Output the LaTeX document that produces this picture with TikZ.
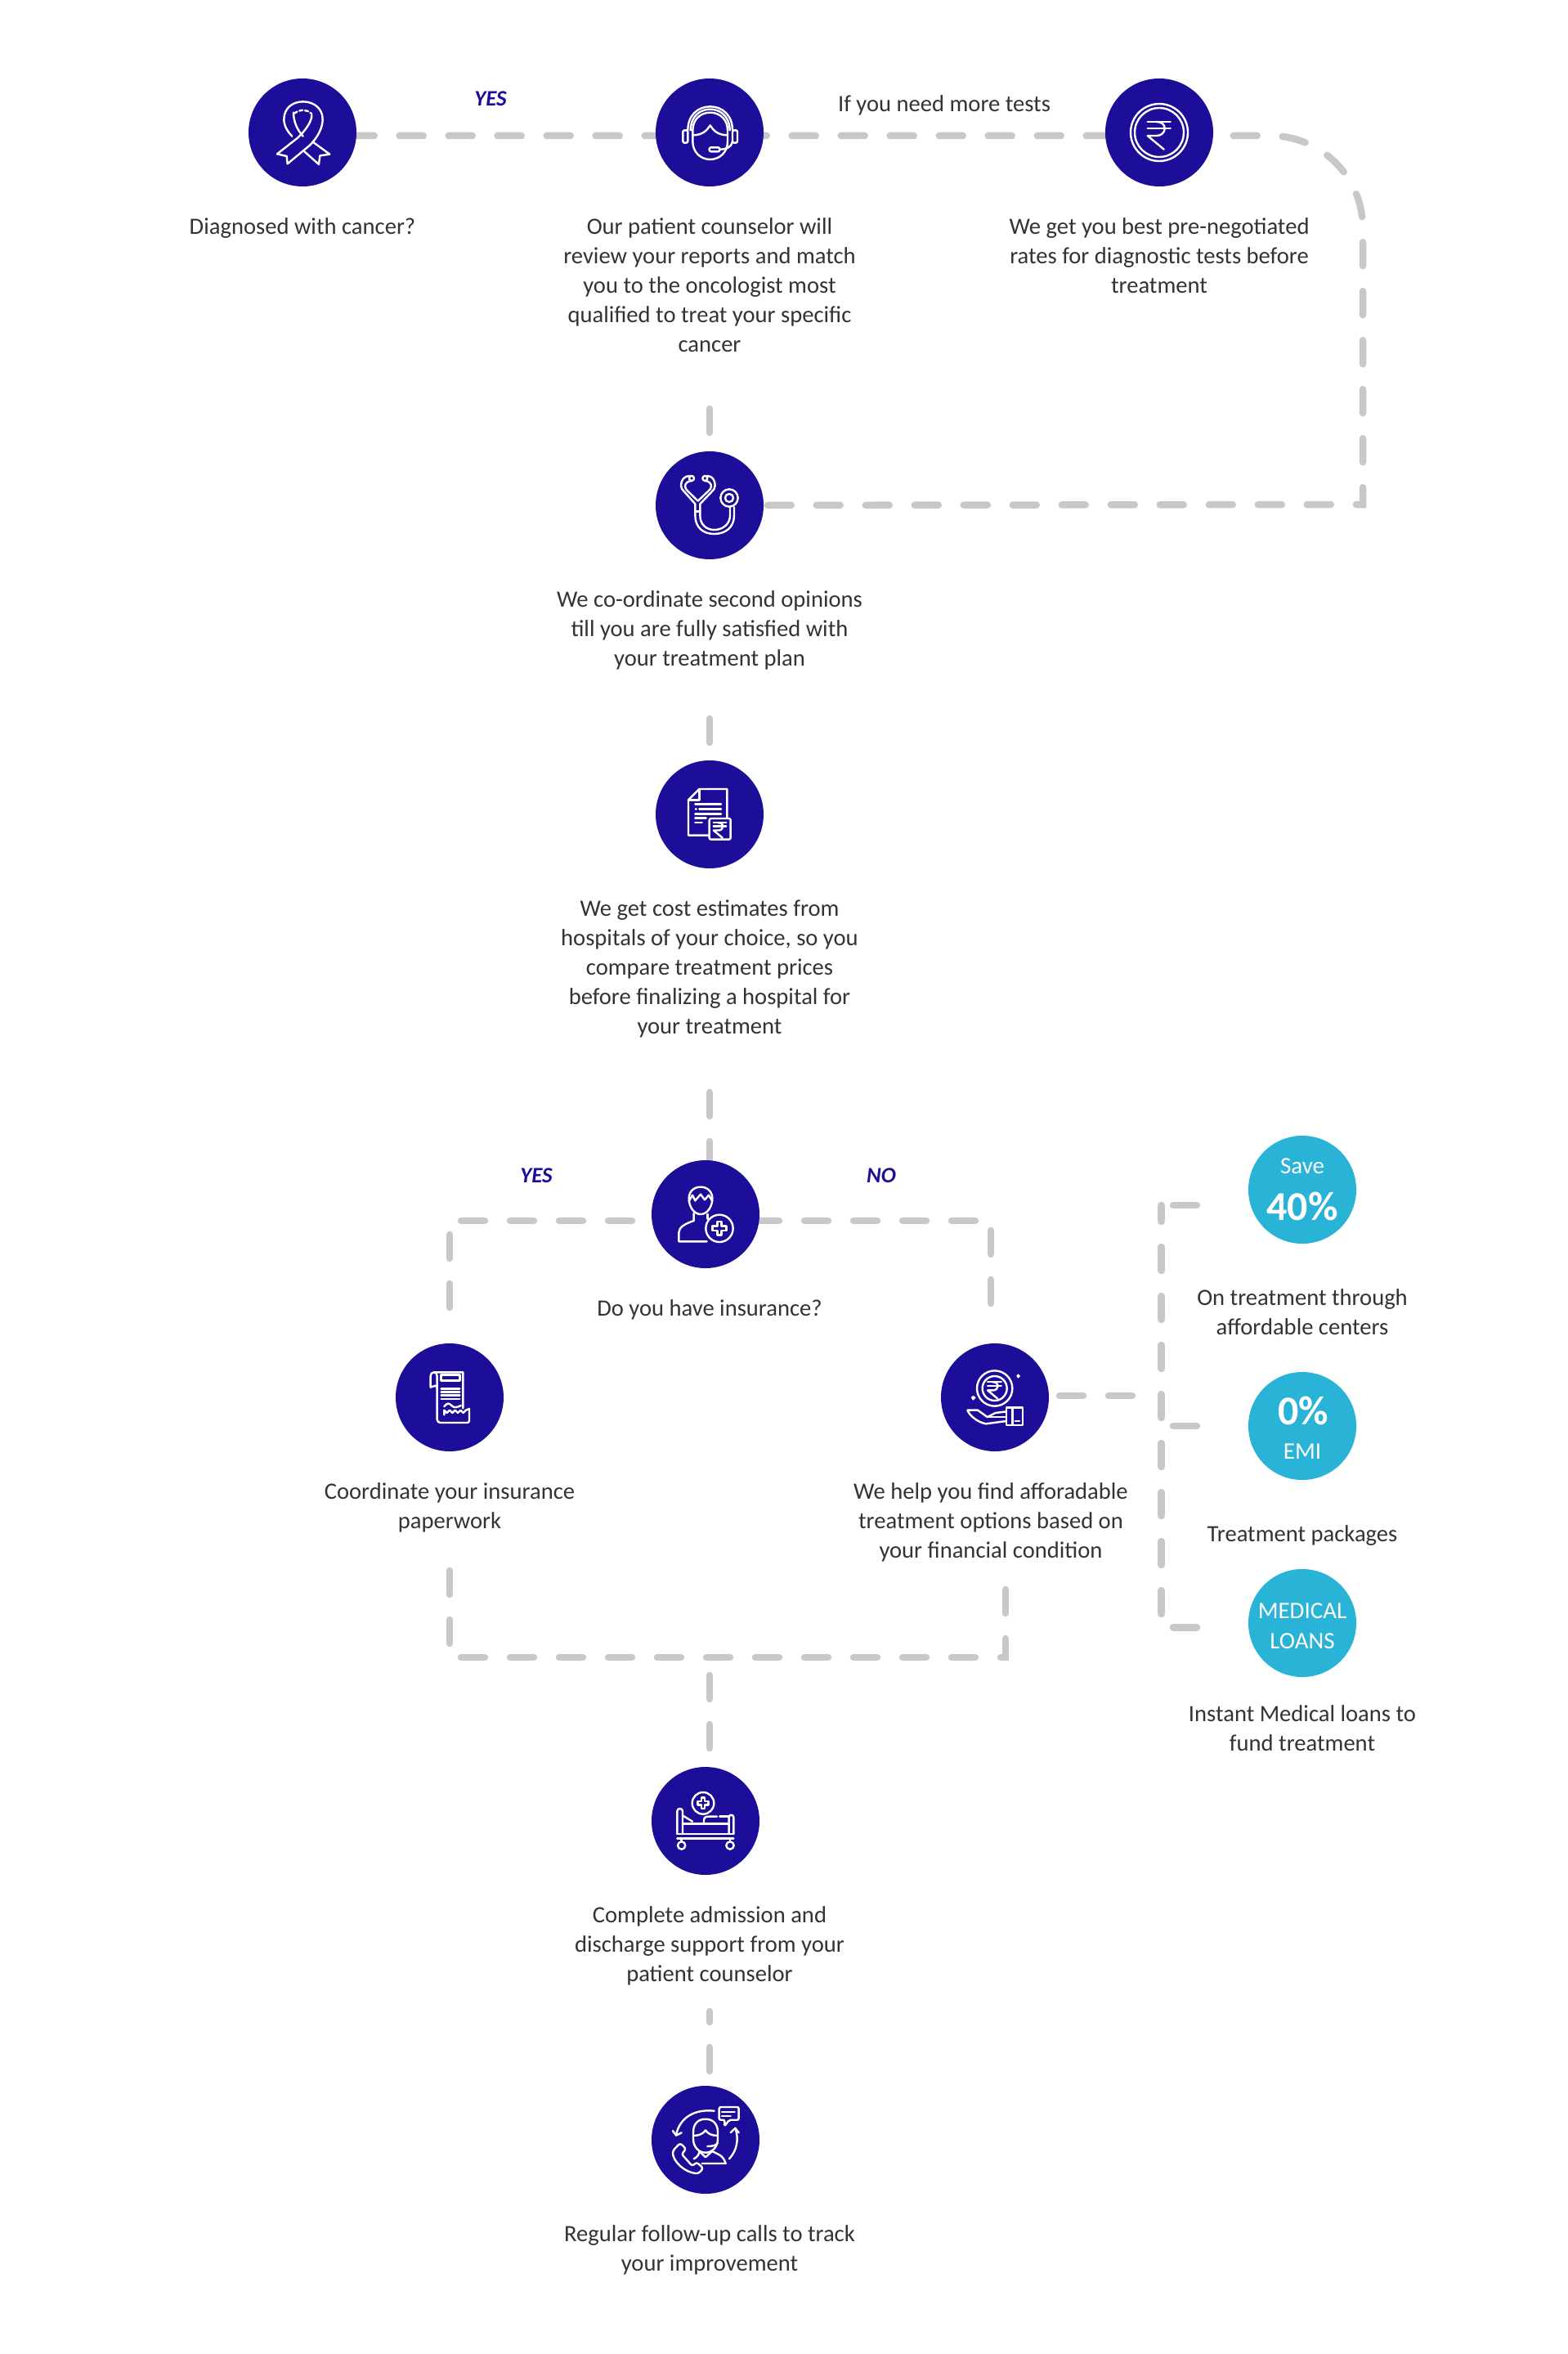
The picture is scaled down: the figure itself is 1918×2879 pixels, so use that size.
\documentclass[tikz,border=0pt]{standalone}
\usepackage{fontspec}
\setmainfont{Carlito}
\usetikzlibrary{positioning,backgrounds}
\definecolor{navydot}{HTML}{1C0E99}
\definecolor{cyandot}{HTML}{29B3D6}
\definecolor{dashgrey}{HTML}{C8C8C8}
\definecolor{bodytext}{HTML}{333333}
\tikzset{
    bluedot/.style={circle,fill=navydot,minimum size=132pt,inner sep=0pt},
    tealdot/.style={circle,fill=cyandot,minimum size=132pt,inner sep=0pt},
    blurb/.style={font=\fontsize{28.6}{36}\selectfont,text=bodytext,align=center,inner sep=0pt,execute at begin node=\strut},
    yesno/.style={font=\fontsize{27}{30}\selectfont\bfseries\itshape,text=navydot,inner sep=0pt},
    dotword/.style={font=\fontsize{29}{30}\selectfont,text=white,inner sep=0pt},
    dotbig/.style={font=\fontsize{50}{52}\selectfont\bfseries,text=white,inner sep=0pt},
    dashline/.style={draw=dashgrey,line width=8.5pt,line cap=round,dash pattern=on 29pt off 31pt},
    iconline/.style={color=white,line width=2.4pt,line cap=round,line join=round},
    icongrid/.style={shift={(#1.center)},x=.3333pt,y=-.3333pt,shift={(-198,-198)},iconline},
    pics/rupeesign/.style={code={
        \draw (-43,-39) -- (41,-39);
        \draw (-43,-15) -- (41,-15);
        \draw (-12,-39) .. controls (12,-39) and (20,-27) .. (20,-15) .. controls (20,0) and (8,12) .. (-10,12) -- (-43,12) -- (17,62);
    }},
    pics/plussign/.style={code={
        \draw (-8,-25) -- (8,-25) -- (8,-8) -- (25,-8) -- (25,8) -- (8,8) -- (8,25) -- (-8,25) -- (-8,8) -- (-25,8) -- (-25,-8) -- (-8,-8) -- cycle;
    }},
}

\begin{document}
\begin{tikzpicture}[x=1pt,y=-1pt]
    \path[use as bounding box] (0,0) rectangle (1918,2879);

    \node[bluedot] (ribbon) at (370,162) {};
    \node[bluedot] (counselor) at (868,162) {};
    \node[bluedot] (coin) at (1418,162) {};
    \node[bluedot] (stetho) at (868,618) {};
    \node[bluedot] (estimate) at (868,996) {};
    \node[bluedot] (insure) at (863,1485) {};
    \node[bluedot] (receipt) at (550,1709) {};
    \node[bluedot] (aid) at (1217,1709) {};
    \node[bluedot] (bed) at (863,2227) {};
    \node[bluedot] (followup) at (863,2617) {};
    \node[tealdot] (save) at (1593,1455) {};
    \node[tealdot] (emi) at (1593,1744) {};
    \node[tealdot] (loans) at (1593,1985) {};

    \node[dotword] (savea) at (1593,1426) {Save};
    \node[dotbig] (saveb) at (1593,1475) {40\%};
    \node[dotbig] (emia) at (1594,1725) {0\%};
    \node[dotword] (emib) at (1593,1775) {EMI};
    \node[dotword] (loansa) at (1593,1970) {MEDICAL};
    \node[dotword] (loansb) at (1593,2007) {LOANS};

    \node[blurb,below=33pt of ribbon] (ribbontxt) {Diagnosed with cancer?};
    \node[blurb,below=38pt of counselor] (counselortxt) {Our patient counselor will\\review your reports and match\\you to the oncologist most\\qualified to treat your specific\\cancer};
    \node[blurb,below=38pt of coin] (cointxt) {We get you best pre-negotiated\\rates for diagnostic tests before\\treatment};
    \node[blurb,below=38pt of stetho] (stethotxt) {We co-ordinate second opinions\\till you are fully satisfied with\\your treatment plan};
    \node[blurb,below=38pt of estimate] (estimatetxt) {We get cost estimates from\\hospitals of your choice, so you\\compare treatment prices\\before finalizing a hospital for\\your treatment};
    \node[blurb,below=33pt of insure,xshift=5pt] (insuretxt) {Do you have insurance?};
    \node[blurb,below=38pt of receipt] (receipttxt) {Coordinate your insurance\\paperwork};
    \node[blurb,below=38pt of aid,xshift=-5pt] (aidtxt) {We help you find afforadable\\treatment options based on\\your financial condition};
    \node[blurb,below=38pt of bed,xshift=5pt] (bedtxt) {Complete admission and\\discharge support from your\\patient counselor};
    \node[blurb,below=38pt of followup,xshift=5pt] (followuptxt) {Regular follow-up calls to track\\your improvement};
    \node[blurb,below=55pt of save] (savetxt) {On treatment through\\affordable centers};
    \node[blurb,below=50pt of emi] (emitxt) {Treatment packages};
    \node[blurb,below=34pt of loans] (loanstxt) {Instant Medical loans to\\fund treatment};

    \node[blurb,execute at begin node={}] (moretests) at (1155,129) {If you need more tests};
    \node[yesno] (yesa) at (600,121) {YES};
    \node[yesno] (yesb) at (656,1438) {YES};
    \node[yesno] (nob) at (1078,1438) {NO};

    \coordinate (bendin) at (1554,166);
    \coordinate (bendout) at (1667,279);
    \coordinate (farcorner) at (1667,617);
    \coordinate (reviewend) at (868,500);
    \coordinate (opinionend) at (868,879);
    \coordinate (costend) at (868,1336);
    \coordinate (yesend) at (550,1599);
    \coordinate (nocorner) at (1212,1493);
    \coordinate (noend) at (1212,1594);
    \coordinate (joinleft) at (550,1921);
    \coordinate (joinright) at (1230,1943);
    \coordinate (joindown) at (868,2049);
    \coordinate (bedend) at (868,2460);
    \coordinate (hubin) at (1385,1707);
    \coordinate (hubtop) at (1420.5,1474);
    \coordinate (hubbottom) at (1420.5,1974);
    \coordinate (stuba) at (1435,1474);
    \coordinate (stubb) at (1435,1744);
    \coordinate (stubc) at (1435,1990.5);

    \begin{scope}[on background layer]
        \fill[white] (0,0) rectangle (1918,2879);
        \draw[dashline,dash phase=1.3] ([yshift=-4pt]ribbon.center) -- (bendin)
            .. controls (1616.4,166) and (1667,216.6) .. (bendout) -- (farcorner) -- (stetho.center);
        \draw[dashline] (reviewend) -- (stetho);
        \draw[dashline] (opinionend) -- (estimate);
        \draw[dashline] (costend) -- (costend |- insure);
        \draw[dashline,dash phase=30] ([yshift=-8pt]insure.center) -- (yesend |- nocorner) -- (yesend);
        \draw[dashline,dash phase=59] ([yshift=-8pt]insure.center) -- (nocorner) -- (noend);
        \draw[dashline] (joinleft) -- (550,2027) -- (1230,2027) -- (joinright);
        \draw[dashline] (joindown) -- (joindown |- bed);
        \draw[dashline,dash phase=16] (bedend) -- (bedend |- followup);
        \draw[dashline,dash phase=41] (aid.center |- hubin) -- (hubin);
        \draw[dashline,dash phase=9] (hubtop) -- (hubbottom);
        \draw[dashline] (stuba) -- ++(29,0);
        \draw[dashline] (stubb) -- ++(29,0);
        \draw[dashline] (stubc) -- ++(29,0);
    \end{scope}

    % ribbon
    \begin{scope}[icongrid=ribbon]
        \draw (143,313) -- (225,245) .. controls (255,215) and (272,180) .. (272,150) .. controls (272,110) and (240,85) .. (200,85) .. controls (160,85) and (130,110) .. (130,150) .. controls (130,175) and (145,197) .. (160,212);
        \draw (105,277) -- (180,218) .. controls (205,195) and (232,160) .. (232,135);
        \draw (165,125) .. controls (165,160) and (180,190) .. (200,212);
        \draw[dash pattern=on 4pt off 3pt] (168,128) .. controls (190,112) and (215,112) .. (232,130);
        \draw (105,277) -- (140,285) -- (143,313);
        \draw (235,232) -- (298,278) -- (262,283) -- (258,315) -- (205,268);
    \end{scope}
    % headset
    \begin{scope}[icongrid=counselor]
        \draw (118,190) .. controls (118,135) and (155,103) .. (200,103) .. controls (245,103) and (282,135) .. (282,190);
        \draw (128,190) .. controls (128,142) and (160,113) .. (200,113) .. controls (240,113) and (272,142) .. (272,190);
        \draw (136,190) .. controls (136,150) and (165,125) .. (200,125) .. controls (235,125) and (264,150) .. (264,190) -- (264,232) .. controls (264,270) and (235,297) .. (200,297) .. controls (165,297) and (136,270) .. (136,232) -- cycle;
        \draw (136,208) .. controls (170,208) and (188,192) .. (200,172) .. controls (212,192) and (230,208) .. (264,208);
        \draw[rounded corners=2pt] (118,190) rectangle (100,236);
        \draw[rounded corners=2pt] (282,190) rectangle (300,236);
        \draw (282,232) .. controls (278,252) and (260,260) .. (235,260);
        \draw[rounded corners=2pt] (197,253) rectangle (235,268);
    \end{scope}
    % coin
    \begin{scope}[icongrid=coin]
        \draw (198,198) circle[radius=105];
        \draw (198,198) circle[radius=90];
        \path (198,198) pic {rupeesign};
    \end{scope}
    % stethoscope
    \begin{scope}[icongrid=stetho]
        \draw (125,90) .. controls (105,90) and (93,105) .. (93,125) .. controls (93,135) and (98,142) .. (105,148) -- (145,193) -- (145,235) .. controls (145,280) and (175,303) .. (215,303) .. controls (255,303) and (288,280) .. (288,235) -- (288,205);
        \draw (188,90) .. controls (208,90) and (218,105) .. (218,125) .. controls (218,135) and (213,142) .. (206,148) -- (163,193) -- (163,235) .. controls (163,268) and (185,288) .. (215,288) .. controls (245,288) and (273,268) .. (273,235) -- (273,205);
        \draw (133,108) .. controls (118,108) and (108,118) .. (108,128) .. controls (108,135) and (112,140) .. (118,146) -- (155,182) -- (193,146) .. controls (200,140) and (204,135) .. (204,128) .. controls (204,118) and (195,108) .. (180,108);
        \draw (132,99) circle[radius=9];
        \draw (181,99) circle[radius=9];
        \draw (145,220) -- (163,220);
        \draw (270,171) circle[radius=32];
        \draw (270,171) circle[radius=15];
    \end{scope}
    % estimate sheet
    \begin{scope}[icongrid=estimate]
        \draw (197,275) -- (120,275) -- (120,145) -- (160,105) -- (262,105) -- (262,212);
        \draw (120,145) -- (160,145) -- (160,105);
        \draw (145,160) -- (240,160);
        \draw (147,178) -- (149,178);
        \draw (160,178) -- (240,178);
        \draw (145,197) -- (240,197);
        \draw (145,212) -- (185,212);
        \draw (145,228) -- (170,228);
        \draw[rounded corners=2pt] (197,213) rectangle (275,290);
        \path (236,250) pic[scale=.55] {rupeesign};
    \end{scope}
    % insured person
    \begin{scope}[icongrid=insure]
        \draw (137,140) .. controls (137,115) and (155,98) .. (180,98) .. controls (205,98) and (223,115) .. (223,140) .. controls (223,170) and (205,198) .. (180,198) .. controls (155,198) and (137,170) .. (137,140);
        \draw (137,150) -- (150,128) -- (160,148) -- (180,125) -- (195,145) -- (210,128) -- (223,150);
        \draw (203,298) -- (100,298) -- (100,265) .. controls (100,245) and (125,232) .. (155,222) -- (155,195);
        \draw (205,198) -- (205,215);
        \draw (249,250) circle[radius=50];
        \path (249,250) pic {plussign};
    \end{scope}
    % receipt
    \begin{scope}[icongrid=receipt]
        \draw (247,238) -- (247,106) -- (140,106) .. controls (132,106) and (128,112) .. (128,120) -- (128,161) -- (145,155) -- (152,161);
        \draw (140,106) .. controls (148,106) and (152,112) .. (152,120) -- (152,280) .. controls (152,287) and (158,291) .. (165,291) -- (262,291) .. controls (267,291) and (270,288) .. (270,283) -- (270,240);
        \draw (178,262) -- (178,245) -- (188,255) -- (198,245) -- (208,255) -- (218,245) -- (228,255) -- (238,245) -- (248,255) -- (258,245) -- (270,240);
        \draw (167,116) rectangle (235,136);
        \foreach \liney in {166,178,191,204}
            \draw (167,\liney) -- (235,\liney);
        \draw (178,231) .. controls (190,218) and (195,218) .. (205,228) .. controls (215,238) and (225,235) .. (239,228);
    \end{scope}
    % coin in hand
    \begin{scope}[icongrid=aid]
        \draw (197,165) circle[radius=65];
        \draw (197,165) circle[radius=45];
        \path (197,165) pic[scale=.6] {rupeesign};
        \draw (280,120) -- (288,120) (284,116) -- (284,124);
        \draw (114,200) -- (124,200) (119,195) -- (119,205);
        \draw (240,250) -- (200,255) -- (170,270) -- (135,245) -- (97,245) .. controls (105,265) and (135,290) .. (165,295) -- (240,285);
        \draw (170,270) -- (235,270);
        \draw (240,235) rectangle (300,300);
        \draw (262,235) -- (262,300);
        \draw (272,285) -- (288,285);
    \end{scope}
    % bed
    \begin{scope}[icongrid=bed]
        \draw (189,133) circle[radius=40];
        \path (189,133) pic[scale=.8] {plussign};
        \draw (94,246) -- (94,162) .. controls (94,150) and (114,150) .. (114,162) -- (114,246);
        \draw (284,246) -- (284,185) .. controls (284,173) and (301,173) .. (301,185) -- (301,246);
        \draw (94,246) -- (301,246);
        \draw (94,263) -- (301,263);
        \draw (114,208) -- (284,208);
        \draw (114,178) -- (150,200);
        \draw (192,208) -- (192,195) .. controls (192,185) and (200,182) .. (210,182) -- (240,182);
        \draw (250,182) -- (284,182);
        \draw (110,263) -- (110,275) (288,263) -- (288,275);
        \draw (110,288) circle[radius=14];
        \draw (288,288) circle[radius=14];
    \end{scope}
    % follow-up call
    \begin{scope}[icongrid=followup]
        \draw (153,170) .. controls (153,140) and (170,122) .. (198,122) .. controls (226,122) and (243,140) .. (243,170) -- (243,195) .. controls (243,225) and (222,245) .. (198,245) .. controls (174,245) and (153,225) .. (153,195) -- cycle;
        \draw (153,183) .. controls (175,183) and (190,175) .. (198,163) .. controls (206,175) and (221,183) .. (243,183);
        \draw (243,208) .. controls (240,218) and (225,222) .. (205,222);
        \draw (175,240) -- (198,262) -- (222,240);
        \draw (155,268) .. controls (170,260) and (175,250) .. (175,240);
        \draw (222,240) .. controls (240,250) and (262,252) .. (272,285) -- (185,285);
        \draw[rounded corners=2pt] (268,148) -- (268,125) -- (248,125) -- (248,78) -- (320,78) -- (320,125) -- (285,125) -- cycle;
        \draw (258,95) -- (305,95);
        \draw (258,110) -- (290,110);
        \draw (230,92) .. controls (165,85) and (105,110) .. (90,180);
        \draw (78,165) -- (90,182) -- (110,172);
        \draw (285,268) .. controls (315,235) and (320,195) .. (308,158);
        \draw (290,172) -- (307,155) -- (320,172);
        \draw[rounded corners=3pt] (105,210) -- (127,232) -- (110,250) -- (150,295) -- (165,280) -- (190,302) -- (172,322) .. controls (120,318) and (78,275) .. (78,238) -- cycle;
    \end{scope}
\end{tikzpicture}
\end{document}
